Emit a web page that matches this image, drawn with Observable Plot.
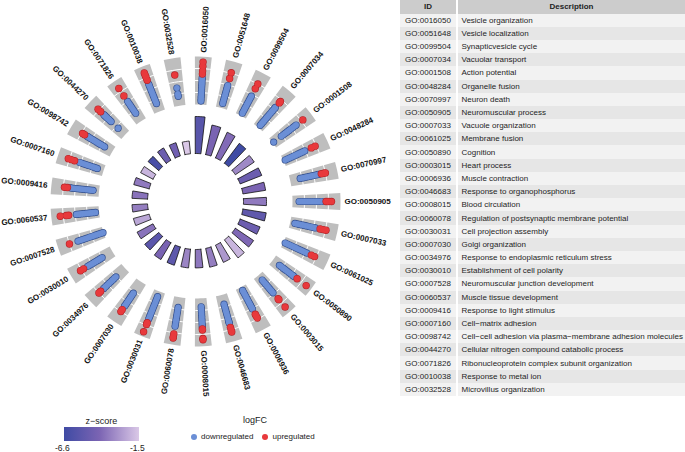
<!DOCTYPE html>
<html><head><meta charset="utf-8">
<script src="https://cdn.jsdelivr.net/npm/d3@7"></script>
<script src="https://cdn.jsdelivr.net/npm/@observablehq/plot@0.6"></script>
<style>
body{margin:0;background:#fff;font-family:"Liberation Sans",Arial,sans-serif;}
#wrap{position:relative;width:685px;height:452px;overflow:hidden;background:#fff;}
#chart{position:absolute;left:0;top:0;}
#tbl{position:absolute;left:400px;top:0;width:285px;border-collapse:collapse;font-size:8px;color:#1e1e1e;table-layout:fixed;}
#tbl th{background:#cccccc;font-weight:bold;height:13.6px;padding:0;text-align:center;}
#tbl td{height:13.2px;padding:0 0 0 3.5px;white-space:nowrap;overflow:visible;}
#tbl td.id{text-align:center;padding:0;}
#tbl th:first-child,#tbl td:first-child{border-right:2px solid #fff;}
#tbl tr:nth-child(odd) td{background:#f2f2f2;}
#tbl tr:nth-child(even) td{background:#e6e6e6;}
.lg{position:absolute;color:#222;white-space:nowrap;}
</style></head><body>
<div id="wrap">
  <div id="chart"></div>
  <div class="lg" id="ztitle" style="left:54px;top:416px;width:95px;text-align:center;font-size:9px;">z−score</div>
  <div class="lg" id="zbar" style="left:64px;top:427px;width:75px;height:14px;"></div>
  <div class="lg" style="left:55px;top:443px;font-size:8.5px;">-6.6</div>
  <div class="lg" style="left:130px;top:443px;font-size:8.5px;">-1.5</div>
  <div class="lg" style="left:230px;top:415px;width:50px;text-align:center;font-size:9px;">logFC</div>
  <div class="lg" id="lfcitems" style="left:191px;top:432px;font-size:8px;"></div>
  <table id="tbl"></table>
</div>
<script>
// ---------- data ----------
const ids = ["GO:0016050","GO:0051648","GO:0099504","GO:0007034","GO:0001508","GO:0048284","GO:0070997","GO:0050905","GO:0007033","GO:0061025","GO:0050890","GO:0003015","GO:0006936","GO:0046683","GO:0008015","GO:0060078","GO:0030031","GO:0007030","GO:0034976","GO:0030010","GO:0007528","GO:0060537","GO:0009416","GO:0007160","GO:0098742","GO:0044270","GO:0071826","GO:0010038","GO:0032528"];
const descriptions = ["Vesicle organization","Vesicle localization","Synapticvesicle cycle","Vacuolar transport","Action potential","Organelle fusion","Neuron death","Neuromuscular process","Vacuole organization","Membrane fusion","Cognition","Heart process","Muscle contraction","Response to organophosphorus","Blood circulation","Regulation of postsynaptic membrane potential","Cell projection assembly","Golgi organization","Response to endoplasmic reticulum stress","Establishment of cell polarity","Neuromuscular junction development","Muscle tissue development","Response to light stimulus","Cell−matrix adhesion","Cell−cell adhesion via plasma−membrane adhesion molecules","Cellular nitrogen compound catabolic process","Ribonucleoprotein complex subunit organization","Response to metal ion","Microvillus organization"];
const zScores = [-5.6,-4.3,-4.0,-6.6,-3.2,-4.8,-4.2,-3.6,-5.3,-4.8,-4.1,-2.0,-2.8,-3.5,-3.7,-3.3,-5.4,-4.3,-5.5,-3.8,-2.4,-3.5,-3.8,-3.6,-2.0,-6.2,-4.8,-4.6,-1.5];
const negLogAdjP = [9.25,7.55,7.05,6.2,5.7,5.8,5.75,5.75,5.9,5.35,5.5,5.65,4.75,4.8,4.6,4.7,4.8,4.9,4.6,4.5,4.1,3.9,3.9,4.0,3.5,3.5,3.6,3.5,3.2];
const downFC = [
 [-2.2,-2.0,-1.8,-1.6,-1.4,-1.2,-1.0,-0.8,-0.6,-0.4,-0.25],
 [-2.1,-1.9,-1.7,-1.5,-1.3,-1.1,-0.9,-0.7,-0.55],
 [-2.25,-2.05,-1.85,-1.65,-1.45,-1.25,-1.05,-0.85,-0.65],
 [-2.25,-2.05,-1.85,-1.65,-1.45,-1.25,-1.05,-0.85,-0.65,-0.45,-0.3],
 [-2.4,-1.6,-1.4,-1.2,-1.0,-0.8,-0.6,-0.4,-0.2,-0.05],
 [-2.35,-2.15,-1.95,-1.75,-1.55,-1.35,-1.15,-0.95,-0.75,-0.55],
 [-1.65,-1.45,-1.25,-1.05,-0.85,-0.65,-0.45,-0.25,-0.1],
 [-1.95,-1.75,-1.55,-1.35,-1.15,-0.95,-0.75,-0.55,-0.35,-0.15,-0.05],
 [-2.1,-1.9,-1.7,-1.5,-1.3,-1.1,-0.9,-0.7,-0.5,-0.35],
 [-2.35,-2.15,-1.95,-1.75,-1.55,-1.35,-1.15,-0.95,-0.75,-0.55,-0.35],
 [-1.8,-1.6,-1.4,-1.2,-1.0,-0.8,-0.6,-0.4,-0.25],
 [-2.0,-1.8,-1.6,-1.4,-1.2,-1.0,-0.8,-0.6],
 [-2.2,-2.0,-1.8,-1.6,-1.4,-1.2,-1.0,-0.8,-0.6,-0.45],
 [-1.7,-1.5,-1.3,-1.1,-0.9,-0.7,-0.5,-0.3,-0.15,-0.05],
 [-1.8,-1.6,-1.4,-1.2,-1.0,-0.8,-0.6,-0.4,-0.2,-0.05],
 [-1.65,-1.45,-1.25,-1.05,-0.85,-0.65,-0.45,-0.25,-0.05],
 [-2.05,-1.85,-1.65,-1.45,-1.25,-1.05,-0.85,-0.65,-0.45,-0.25,-0.05],
 [-1.35,-1.15,-0.95,-0.75,-0.55,-0.35,-0.15,-0.05],
 [-1.45,-1.25,-1.05,-0.85,-0.65,-0.45,-0.25,-0.05],
 [-1.5,-1.3,-1.1,-0.9,-0.7,-0.5,-0.3,-0.1],
 [-2.45,-2.25,-2.05,-1.85,-1.65,-1.45,-1.25,-1.05,-0.85,-0.65,-0.45,-0.25],
 [-2.2,-2.0,-1.8,-1.6,-1.4,-1.2,-1.0,-0.8,-0.6],
 [-2.0,-1.8,-1.6,-1.4,-1.2,-1.0,-0.8,-0.6,-0.4,-0.2,-0.1],
 [-1.95,-1.75,-1.55,-1.35,-1.15,-0.95,-0.75,-0.55,-0.4],
 [-1.75,-1.55,-1.35,-1.15,-0.95,-0.75,-0.55,-0.35,-0.15,-0.05],
 [-1.7,-0.9,-0.75,-0.6,-0.45,-0.3,-0.15,-0.05],
 [-1.7,-1.5,-1.3,-1.1,-0.9,-0.7,-0.5],
 [-1.8,-1.6,-1.4,-1.2,-1.0,-0.8,-0.6,-0.4,-0.2,-0.05],
 [-1.7,-1.5,-1.0]
];
const upFC = [
 [0.05,0.3,0.7,1.05],[0.05,0.55],[0.05,0.5],[0.2,0.35],[0.65],[0.05,0.4],[0.15,0.35,0.5],[0.3,0.5,0.75],
 [0.05,0.3,0.55],[0.05,0.35],[0.05,1.0],[0.05,0.15,0.95],[0.05,0.2,0.4],[0.3,0.55,0.7],[0.05,0.15,0.85,0.95],
 [0.6,0.85,0.95],[0.3,0.45,1.1],[0.3,0.5],[0.3,0.5],[0.3,0.6],[0.5],[0.05,0.25,0.75],[0.15,0.4],[0.05,0.35,0.6],
 [0.2,0.4],[0.3,0.6],[0.05,0.8],[0.3,0.55,0.75,0.95],[0.1]
];
const fcGrid = [-1.5,-0.5,0.5];
const fcDomain = [-2.5,1.5];
const zDomain = [-6.6,-4.2,-1.5];
const zColors = ["#3f4ba4","#7b64b3","#dac8e7"];
const downColor = "#6b8fd6", downEdge = "#34508f", upColor = "#e8393c", upEdge = "#b02328";

// ---------- geometry ----------
const N = ids.length, step = 360 / N, halfW = step * 0.27;
const angle = i => step * (i + 0.25);
const rIn = 48, barUnit = 4, rectR = [97, 145], labelR = 149;
const fc = d3.scaleLinear().domain(fcDomain).range(rectR);
const rad = a => a * Math.PI / 180;
const pol = (a, r) => [r * Math.sin(rad(a)), r * Math.cos(rad(a))];
function wedge(i, r0, r1, extra) {
  const a = angle(i), out = [], n = 4;
  for (let j = 0; j <= n; j++) out.push(pol(a - halfW + 2 * halfW * j / n, r0));
  for (let j = n; j >= 0; j--) out.push(pol(a - halfW + 2 * halfW * j / n, r1));
  out.push(out[0]);
  return out.map(([x, y]) => ({x, y, id: ids[i], ...extra}));
}
const bars = ids.flatMap((id, i) => wedge(i, rIn, rIn + negLogAdjP[i] * barUnit, {z: zScores[i]}));
const rects = ids.flatMap((id, i) => wedge(i, rectR[0], rectR[1], {}));
const grid = fcGrid.flatMap(v => d3.range(0, 361, 2).map(a => { const [x, y] = pol(a, fc(v)); return {x, y, v}; }));
const pts = (arr, type) => arr.flatMap((vals, i) => vals.map(v => { const [x, y] = pol(angle(i), fc(v)); return {x, y, id: ids[i], type}; }));
const down = pts(downFC, "down"), up = pts(upFC, "up");
const labels = ids.map((id, i) => { const a = angle(i); const [x, y] = pol(a, labelR); return {id, x, y, a, right: a <= 180, rot: a <= 180 ? a - 90 : a - 270}; });

const W = 400, H = 405, cx = 195, cy = 201;
const font = "Liberation Sans, Arial, sans-serif";
const chart = Plot.plot({
  width: W, height: H, margin: 0,
  x: {domain: [-cx, W - cx], axis: null},
  y: {domain: [cy - H, cy], axis: null},
  color: {type: "linear", domain: zDomain, range: zColors},
  marks: [
    Plot.line(rects, {x: "x", y: "y", z: "id", fill: "#bebebe", stroke: "none", curve: "linear"}),
    Plot.line(grid, {x: "x", y: "y", z: "v", stroke: "white", strokeWidth: 1, curve: "linear"}),
    Plot.line(bars, {x: "x", y: "y", z: "id", fill: "z", stroke: "#111", strokeWidth: 0.8, curve: "linear"}),
    Plot.dot(down, {x: "x", y: "y", r: 3.6, fill: downEdge, stroke: "none"}),
    Plot.dot(down, {x: "x", y: "y", r: 2.9, fill: downColor, stroke: "none"}),
    Plot.dot(up, {x: "x", y: "y", r: 3.7, fill: upEdge, stroke: "none"}),
    Plot.dot(up, {x: "x", y: "y", r: 3.1, fill: upColor, stroke: "none"}),
    Plot.text(labels.filter(d => d.right), {x: "x", y: "y", text: "id", rotate: "rot", textAnchor: "start", fontSize: 8, fontWeight: "bold", fill: "#111", fontFamily: font}),
    Plot.text(labels.filter(d => !d.right), {x: "x", y: "y", text: "id", rotate: "rot", textAnchor: "end", fontSize: 8, fontWeight: "bold", fill: "#111", fontFamily: font})
  ]
});
document.getElementById("chart").append(chart);

// ---------- legends ----------
const zExt = [zDomain[0], zDomain[zDomain.length - 1]];
document.getElementById("zbar").style.background = "linear-gradient(to right," + zDomain.map((d, i) => zColors[i] + " " + ((d - zExt[0]) / (zExt[1] - zExt[0]) * 100) + "%").join(",") + ")";
document.getElementById("lfcitems").innerHTML =
  `<span style="display:inline-block;width:6px;height:6px;border-radius:50%;background:${downColor};vertical-align:middle;margin-right:4px"></span><span style="vertical-align:middle">downregulated</span>` +
  `<span style="display:inline-block;width:6px;height:6px;border-radius:50%;background:${upColor};vertical-align:middle;margin:0 4px 0 9px"></span><span style="vertical-align:middle">upregulated</span>`;

// ---------- table ----------
const tbl = d3.select("#tbl");
tbl.append("colgroup").html('<col style="width:57px"><col>');
tbl.append("tr").html("<th>ID</th><th>Description</th>");
ids.forEach((id, i) => { const tr = tbl.append("tr"); tr.append("td").attr("class", "id").text(id); tr.append("td").text(descriptions[i]); });
</script>
</body></html>
